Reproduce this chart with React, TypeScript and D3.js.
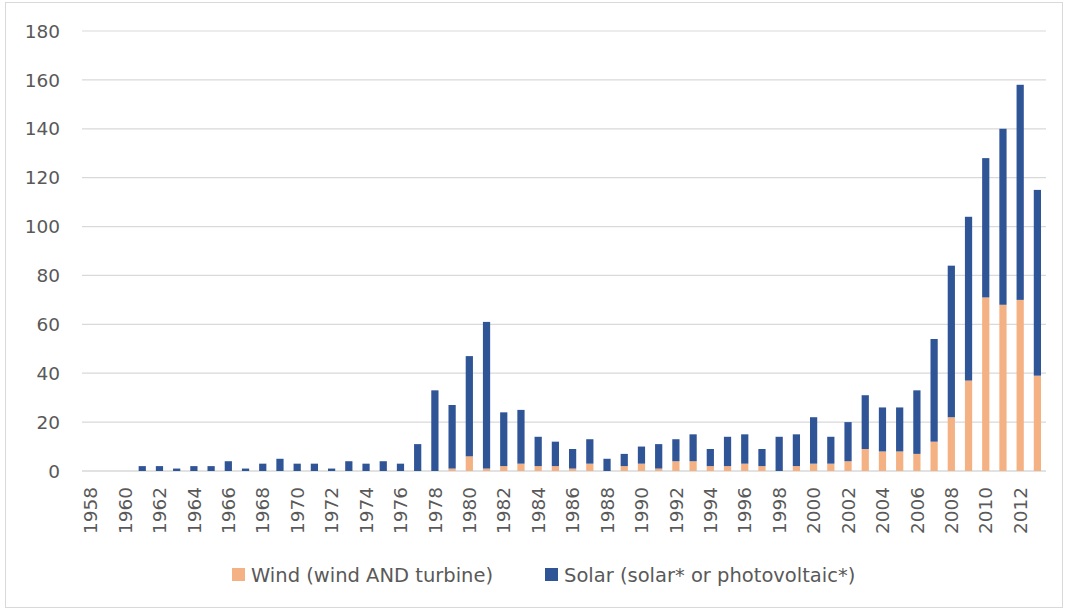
import * as d3 from "d3";

const years: number[] = d3.range(1958, 2014);
const wind: number[] = [
  0, 0, 0, 0, 0, 0, 0, 0, 0, 0, 0, 0, 0, 0, 0, 0, 0, 0, 0, 0,
  0, 1, 6, 1, 2, 3, 2, 2, 1, 3, 0, 2, 3, 1, 4, 4, 2, 2, 3, 2,
  0, 2, 3, 3, 4, 9, 8, 8, 7, 12, 22, 37, 71, 68, 70, 39,
];
const solar: number[] = [
  0, 0, 0, 2, 2, 1, 2, 2, 4, 1, 3, 5, 3, 3, 1, 4, 3, 4, 3, 11,
  33, 26, 41, 60, 22, 22, 12, 10, 8, 10, 5, 5, 7, 10, 9, 11, 7, 12, 12, 7,
  14, 13, 19, 11, 16, 22, 18, 18, 26, 42, 62, 67, 57, 72, 88, 76,
];
const yTicks: number[] = [0, 20, 40, 60, 80, 100, 120, 140, 160, 180];
const seriesNames = ["Wind (wind AND turbine)", "Solar (solar* or photovoltaic*)"];
const colors = ["#F4B183", "#2F5597"];

const W = 1067;
const H = 611;
const margin = { top: 31, right: 21, bottom: 140, left: 82 };

export default function App() {
  const x = d3
    .scaleBand<number>()
    .domain(years)
    .range([margin.left, W - margin.right])
    .paddingInner(0.58)
    .paddingOuter(0.29);
  const y = d3.scaleLinear().domain([0, 180]).range([H - margin.bottom, margin.top]);

  const rows = years.map((yr, i) => ({ year: yr, wind: wind[i], solar: solar[i] }));
  const stack = d3.stack<any>().keys(["wind", "solar"])(rows);
  const font = "'DejaVu Sans', sans-serif";

  return (
    <div style={{ position: "fixed", left: 0, top: 0 }}>
      <svg width={W} height={H} style={{ display: "block", background: "#fff" }}>
        <rect x={5.5} y={2.5} width={W - 10} height={H - 6} fill="#fff" stroke="#D9D9D9" />
        {/* gridlines */}
        {yTicks.map((t) => (
          <line
            key={t}
            x1={margin.left}
            x2={W - margin.right}
            y1={y(t)}
            y2={y(t)}
            stroke="#D9D9D9"
            strokeWidth={t === 0 ? 1.5 : 1.2}
          />
        ))}
        {yTicks.map((t) => (
          <text
            key={"l" + t}
            x={60}
            y={y(t)}
            dy="0.36em"
            textAnchor="end"
            fontFamily={font}
            fontSize={18.5}
            fill="#595959"
          >
            {t}
          </text>
        ))}
        {/* bars */}
        {stack.map((s, si) =>
          s.map((d, i) =>
            d[1] - d[0] > 0 ? (
              <rect
                key={si + "-" + i}
                x={x(years[i])}
                y={y(d[1])}
                width={x.bandwidth()}
                height={y(d[0]) - y(d[1])}
                fill={colors[si]}
              />
            ) : null
          )
        )}
        {/* x labels */}
        {years
          .filter((yr) => yr % 2 === 0)
          .map((yr) => {
            const cx = (x(yr) as number) + x.bandwidth() / 2;
            return (
              <text
                key={"x" + yr}
                transform={`translate(${cx},${487}) rotate(-90)`}
                dy="0.36em"
                textAnchor="end"
                fontFamily={font}
                fontSize={18.5}
                fill="#595959"
              >
                {yr}
              </text>
            );
          })}
        {/* legend */}
        {seriesNames.map((name, i) => {
          const lx = i === 0 ? 232 : 545;
          return (
            <g key={name}>
              <rect x={lx} y={568} width={13} height={13} fill={colors[i]} />
              <text
                x={lx + 19}
                y={574.5}
                dy="0.36em"
                fontFamily={font}
                fontSize={19.5}
                fill="#595959"
              >
                {name}
              </text>
            </g>
          );
        })}
      </svg>
    </div>
  );
}
